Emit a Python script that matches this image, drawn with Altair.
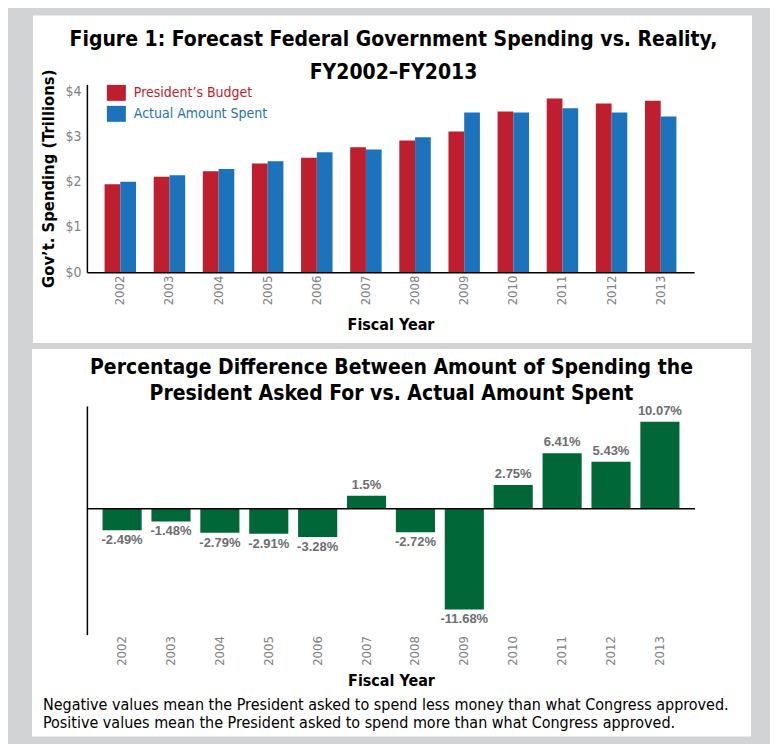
import altair as alt
import pandas as pd

# ---------------- data ----------------
YEARS = ["2002", "2003", "2004", "2005", "2006", "2007",
         "2008", "2009", "2010", "2011", "2012", "2013"]
SERIES = ["President\u2019s Budget", "Actual Amount Spent"]
BUDGET = [1.94, 2.11, 2.23, 2.40, 2.53, 2.76, 2.91, 3.11, 3.55, 3.84, 3.73, 3.79]
ACTUAL = [2.00, 2.14, 2.28, 2.45, 2.65, 2.71, 2.98, 3.53, 3.53, 3.62, 3.53, 3.44]
PCT = [-2.49, -1.48, -2.79, -2.91, -3.28, 1.5, -2.72, -11.68, 2.75, 6.41, 5.43, 10.07]
Y_TICKS = [0, 1, 2, 3, 4]

TITLE_TOP = ["Figure 1: Forecast Federal Government Spending vs. Reality,",
             "FY2002\u2013FY2013"]
TITLE_BOT = ["Percentage Difference Between Amount of Spending the",
             "President Asked For vs. Actual Amount Spent"]
FOOTNOTE = ["Negative values mean the President asked to spend less money than what Congress approved.",
            "Positive values mean the President asked to spend more than what Congress approved."]

# ---------------- style ----------------
NARROW = "DejaVu Sans Condensed"
SANS = "Liberation Sans"
RED, BLUE, GREEN = "#be1e2d", "#1c73bc", "#006838"
GRAY_BG = "#d1d3d4"
LABEL_GRAY = "#808285"
VALUE_GRAY = "#6d6e71"

top_df = pd.DataFrame({
    "year": YEARS * 2,
    "series": [SERIES[0]] * len(YEARS) + [SERIES[1]] * len(YEARS),
    "value": BUDGET + ACTUAL,
})
bot_df = pd.DataFrame({"year": YEARS, "pct": PCT})
bot_df["label"] = [f"{v:g}%" for v in PCT]
one = pd.DataFrame({"k": [0]})

# ---------------- top chart ----------------
W1, H1 = 608, 188
bg1 = alt.Chart(one).mark_rect(color="white").encode(
    x=alt.value(-54), x2=alt.value(666), y=alt.value(-69), y2=alt.value(259))
title1 = alt.Chart(one).mark_text(
    align="center", baseline="alphabetic", font=NARROW, fontSize=21, fontWeight="bold",
    lineHeight=33, color="black"
).encode(x=alt.value(307), y=alt.value(-38), text=alt.value(TITLE_TOP))

bars1 = alt.Chart(top_df).mark_bar().encode(
    x=alt.X("year:N", sort=YEARS,
            scale=alt.Scale(paddingInner=0.36, paddingOuter=0.36),
            axis=alt.Axis(title="Fiscal Year", labelAngle=-90, labelFontSize=13,
                          labelPadding=3, titleFontSize=16, titlePadding=12,
                          ticks=False, domain=True, zindex=1)),
    xOffset=alt.XOffset("series:N", sort=SERIES,
                        scale=alt.Scale(paddingInner=0, paddingOuter=0)),
    y=alt.Y("value:Q", scale=alt.Scale(domain=[0, 4.15], nice=False),
            axis=alt.Axis(title="Gov\u2019t. Spending (Trillions)", values=Y_TICKS,
                          labelExpr="'$' + datum.value", labelFontSize=14,
                          labelPadding=6, titleFontSize=16.5, titlePadding=8,
                          ticks=False, grid=False, zindex=1)),
    color=alt.Color("series:N", sort=SERIES,
                    scale=alt.Scale(domain=SERIES, range=[RED, BLUE]),
                    legend=alt.Legend(title=None, orient="none", legendX=20, legendY=-1,
                                      symbolType="M-1,-0.84H1V0.84H-1Z", symbolSize=361,
                                      symbolStrokeWidth=0, symbolOpacity=1,
                                      labelFont=NARROW, labelFontSize=14, labelOffset=8,
                                      rowPadding=3, padding=0,
                                      labelColor={"expr": "datum.label == '" + SERIES[0] + "' ? '" + RED + "' : '" + BLUE + "'"})),
)

top = alt.layer(bg1, title1, bars1).properties(width=W1, height=H1)

# ---------------- bottom chart ----------------
W2, H2 = 609, 229
X2 = alt.X("year:N", sort=YEARS,
           scale=alt.Scale(paddingInner=0.2, paddingOuter=0.32),
           axis=alt.Axis(title="Fiscal Year", labelAngle=-90, labelFontSize=13,
                         labelPadding=1, titleFontSize=16, titlePadding=7,
                         ticks=False, domain=False, zindex=1))
Y2 = alt.Y("pct:Q", scale=alt.Scale(domain=[-14.6, 11.9], nice=False),
           axis=alt.Axis(title=None, labels=False, ticks=False, grid=False,
                         domain=True, zindex=1))

bg2 = alt.Chart(one).mark_rect(color="white").encode(
    x=alt.value(-55), x2=alt.value(665), y=alt.value(-57), y2=alt.value(331))
title2 = alt.Chart(one).mark_text(
    align="center", baseline="alphabetic", font=NARROW, fontSize=21, fontWeight="bold",
    lineHeight=26, color="black"
).encode(x=alt.value(305), y=alt.value(-32), text=alt.value(TITLE_BOT))
bars2 = alt.Chart(bot_df).mark_bar(color=GREEN).encode(x=X2, y=Y2)
zero = alt.Chart(one).mark_rule(color="black", strokeWidth=1.5).encode(y=alt.datum(0))
pos_lbl = alt.Chart(bot_df).transform_filter("datum.pct >= 0").mark_text(
    baseline="bottom", dy=-4, font=SANS, fontSize=13, fontWeight="bold", color=VALUE_GRAY
).encode(x=alt.X("year:N", sort=YEARS), y="pct:Q", text="label:N")
neg_lbl = alt.Chart(bot_df).transform_filter("datum.pct < 0").mark_text(
    baseline="top", dy=4, font=SANS, fontSize=13, fontWeight="bold", color=VALUE_GRAY
).encode(x=alt.X("year:N", sort=YEARS), y="pct:Q", text="label:N")
foot = alt.Chart(one).mark_text(
    align="left", baseline="alphabetic", font=NARROW, fontSize=16, lineHeight=18.5, color="black"
).encode(x=alt.value(-44), y=alt.value(304), text=alt.value(FOOTNOTE))

bottom = alt.layer(bg2, title2, bars2, zero, pos_lbl, neg_lbl, foot).properties(
    width=W2, height=H2)

chart = alt.vconcat(top, bottom, spacing=6).properties(
    background=GRAY_BG,
    padding={"left": 24, "top": 7, "right": 18, "bottom": 7},
).configure_view(stroke=None).configure_axis(
    labelFont=NARROW, titleFont=NARROW, labelColor=LABEL_GRAY,
    titleColor="black", titleFontWeight="bold", domainColor="black", domainWidth=1.5,
)

chart.save("out.html", embed_options={"renderer": "svg", "actions": False})
